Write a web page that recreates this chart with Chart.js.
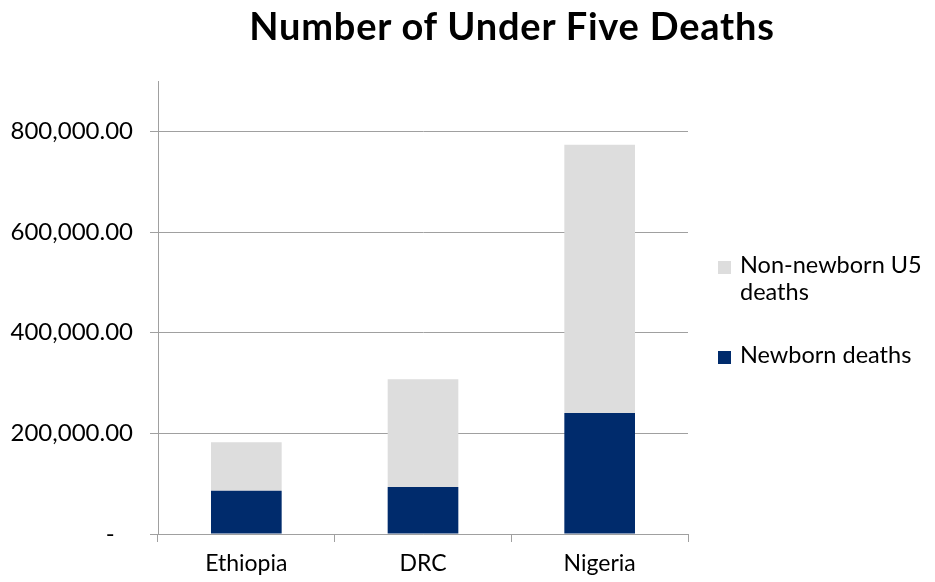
<!DOCTYPE html>
<html>
<head>
<meta charset="utf-8">
<script src="https://cdn.jsdelivr.net/npm/chart.js@4.4.1/dist/chart.umd.min.js"></script>
<style>
  html, body { margin: 0; padding: 0; background: #fff; overflow: hidden; }
  #wrap { position: relative; width: 935px; height: 582px; font-family: Lato, "Open Sans", sans-serif; color: #000; }
  #title { position: absolute; left: 162px; top: 3px; width: 700px; text-align: center;
           font-weight: 700; font-size: 38px; letter-spacing: 0.8px; line-height: 1.2; white-space: nowrap; }
  #legend { position: absolute; left: 718px; top: 251px; width: 217px; font-size: 23.5px; line-height: 27px; }
  .item { position: relative; padding-left: 22px; white-space: nowrap; }
  .swatch { position: absolute; left: 0; top: 10px; width: 13px; height: 13px; }
</style>
</head>
<body>
<div id="wrap">
  <div id="title">Number of Under Five Deaths</div>
  <canvas id="chart" width="935" height="582"></canvas>
  <div id="legend"></div>
</div>
<script>
// data
const countries = ["Ethiopia", "DRC", "Nigeria"];
const newbornDeaths = [86100, 93400, 240400];
const nonNewbornDeaths = [96100, 213900, 533100];
const yTickValues = [0, 200000, 400000, 600000, 800000];
const yTickLabels = ["-   ", "200,000.00", "400,000.00", "600,000.00", "800,000.00"];
const seriesNames = ["Newborn deaths", "Non-newborn U5 deaths"];

const navy = '#002B6C';
const lightGrey = '#DDDDDD';
const axisGrey = '#A0A0A0';

const chart = new Chart(document.getElementById('chart'), {
    type: 'bar',
    data: {
        labels: countries,
        datasets: [
            { label: seriesNames[0], data: newbornDeaths, backgroundColor: navy,
              barPercentage: 0.4, categoryPercentage: 1.0 },
            { label: seriesNames[1], data: nonNewbornDeaths, backgroundColor: lightGrey,
              barPercentage: 0.4, categoryPercentage: 1.0 }
        ]
    },
    options: {
        responsive: false,
        animation: false,
        layout: { padding: { top: 81, right: 247, left: 0, bottom: 0 } },
        plugins: {
            legend: { display: false },
            title: { display: false },
            tooltip: { enabled: false }
        },
        scales: {
            x: {
                stacked: true,
                grid: { display: true, drawOnChartArea: false, drawTicks: true, tickLength: 8, color: axisGrey, offset: true },
                border: { display: true, color: axisGrey },
                ticks: { color: '#000', padding: 8, font: { family: 'Lato', size: 23 } },
                afterFit: function(scale) { scale.height = 48; }
            },
            y: {
                stacked: true,
                min: 0,
                max: 900000,
                grid: { color: axisGrey, drawTicks: true, tickLength: 8 },
                border: { display: true, color: axisGrey },
                ticks: {
                    color: '#000',
                    padding: 17,
                    font: { family: 'Lato', size: 24 },
                    callback: function(value) {
                        let i = yTickValues.indexOf(value);
                        return i >= 0 ? yTickLabels[i] : '';
                    }
                },
                afterBuildTicks: function(scale) {
                    scale.ticks = yTickValues.map(v => ({ value: v }));
                },
                afterFit: function(scale) { scale.width = 158; }
            }
        }
    }
});

// legend on the right, stacked order reversed like the original
const legendDiv = document.getElementById('legend');
const legendItems = [
    { text: "Non-newborn U5<br>deaths", color: lightGrey, gap: 36 },
    { text: seriesNames[0], color: navy, gap: 0 }
];
legendItems.forEach(item => {
    legendDiv.innerHTML += `
        <div class="item" style="margin-bottom:${item.gap}px">
            <span class="swatch" style="background:${item.color}"></span>${item.text}
        </div>`;
});
</script>
</body>
</html>
